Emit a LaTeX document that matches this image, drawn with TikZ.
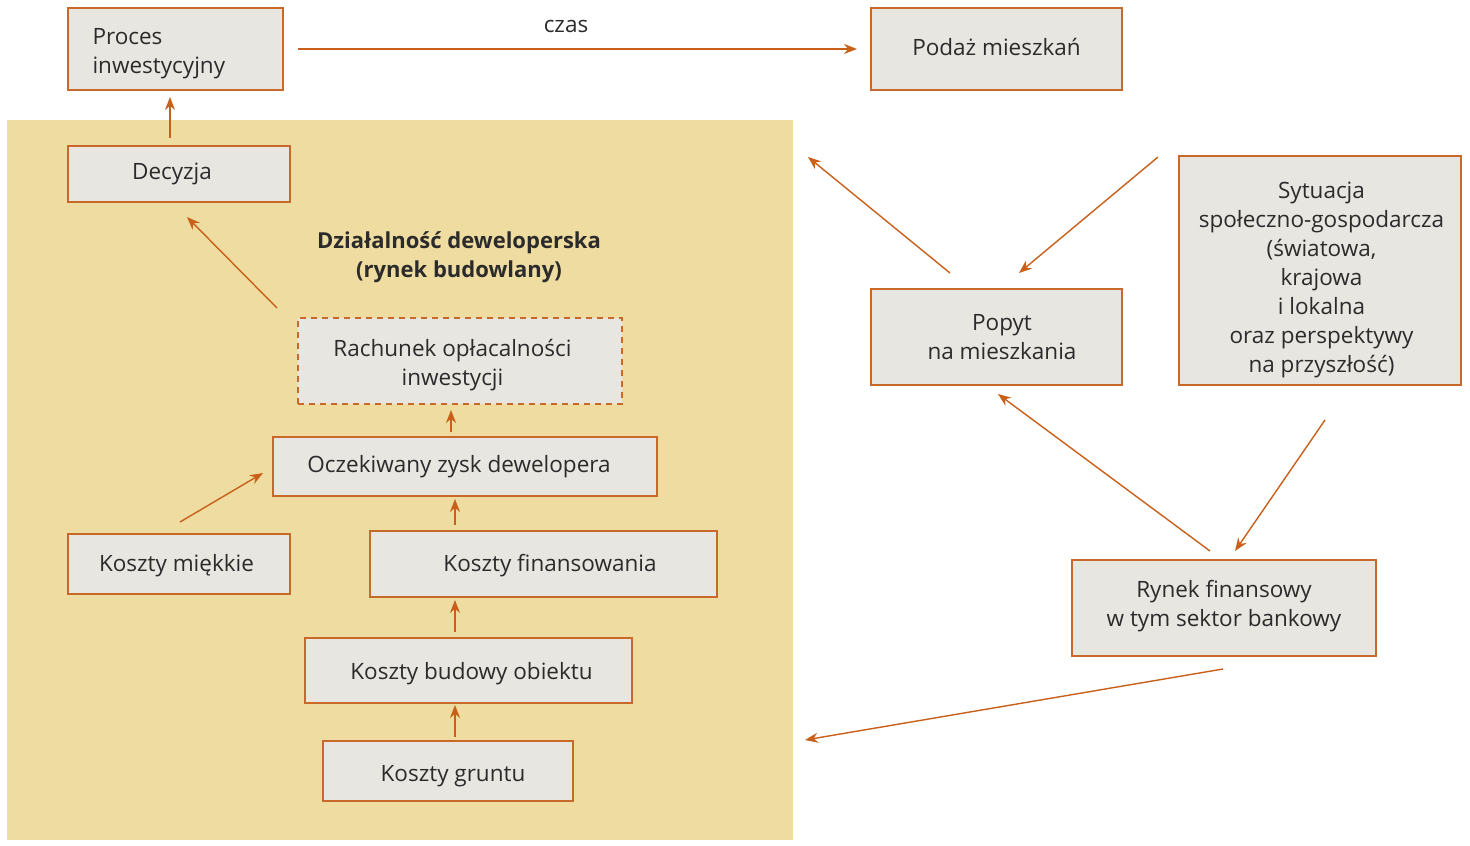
\documentclass[tikz,border=0pt]{standalone}
\usepackage{fontspec}
\setmainfont{Open Sans}
\usetikzlibrary{arrows.meta}
\definecolor{boxfill}{HTML}{E8E6E1}
\definecolor{boxline}{HTML}{C8692A}
\definecolor{arr}{HTML}{C8601A}
\definecolor{bgyel}{HTML}{EEDCA0}
\definecolor{txt}{HTML}{2B2B2B}
\tikzset{
  lab/.style={align=center, inner sep=0pt, text=txt, font=\fontsize{22.5}{29}\selectfont},
  box/.style={draw=boxline, line width=1.3pt, fill=boxfill, inner sep=0pt},
  dashbox/.style={box, dashed, dash pattern=on 6pt off 5pt},
  conn/.style={draw=arr, line width=1.4pt, -{Stealth[length=13pt,width=10pt]}},
}
\begin{document}
\begin{tikzpicture}[x=1pt,y=-1pt]
\useasboundingbox (0,0) rectangle (1470,846);
\fill[white] (0,0) rectangle (1470,846);
\fill[bgyel] (7,120) rectangle (793,840);

\node[box, minimum width=215pt, minimum height=82pt,
  label={[lab, align=left, anchor=west, xshift=25pt, yshift=-5pt]west:{Proces\\inwestycyjny}}] (proces) at (175.5,49) {};
\node[box, minimum width=251pt, minimum height=82pt,
  label={[lab, yshift=2pt]center:{Podaż mieszkań}}] (podaz) at (996.5,49) {};
\node[box, minimum width=222pt, minimum height=56pt,
  label={[lab, xshift=-7pt]center:{Decyzja}}] (decyzja) at (179,174) {};
\node[dashbox, minimum width=324pt, minimum height=86pt,
  label={[lab, xshift=-7.5pt, yshift=-4pt]center:{Rachunek opłacalności\\inwestycji}}] (rachunek) at (460,361) {};
\node[box, minimum width=384pt, minimum height=59pt,
  label={[lab, xshift=-6pt]center:{Oczekiwany zysk dewelopera}}] (zysk) at (465,466.5) {};
\node[box, minimum width=222pt, minimum height=60pt,
  label={[lab, xshift=-2.5pt, yshift=-2pt]center:{Koszty miękkie}}] (miekkie) at (179,564) {};
\node[box, minimum width=347pt, minimum height=66pt,
  label={[lab, xshift=6.5pt, yshift=-2pt]center:{Koszty finansowania}}] (finans) at (543.5,564) {};
\node[box, minimum width=327pt, minimum height=65pt,
  label={[lab, xshift=3pt, yshift=-3pt]center:{Koszty budowy obiektu}}] (budowa) at (468.5,670.5) {};
\node[box, minimum width=250pt, minimum height=60pt,
  label={[lab, xshift=5pt, yshift=-5pt]center:{Koszty gruntu}}] (grunt) at (448,771) {};
\node[box, minimum width=251pt, minimum height=96pt,
  label={[lab, xshift=5.5pt]center:{Popyt\\na mieszkania}}] (popyt) at (996.5,337) {};
\node[box, minimum width=282pt, minimum height=229pt,
  label={[lab, xshift=1.5pt, yshift=-9pt]center:{Sytuacja\\społeczno-gospodarcza\\(światowa,\\krajowa\\i lokalna\\oraz perspektywy\\na przyszłość)}}] (sytuacja) at (1320,270.5) {};
\node[box, minimum width=304pt, minimum height=96pt,
  label={[lab, yshift=2pt]center:{Rynek finansowy\\w tym sektor bankowy}}] (rynek) at (1224,608) {};

\node[lab, font=\fontsize{22}{29}\selectfont\bfseries] (tytul) at (459,257) {Działalność deweloperska\\(rynek budowlany)};
\node[lab] (czas) at (566,26) {czas};

% connector end points
\coordinate (czasA) at (298,49);
\coordinate (czasB) at (857,49);
\coordinate (decA) at (170,138);
\coordinate (decB) at (170,97);
\coordinate (rachA) at (277,308);
\coordinate (rachB) at (187,217);
\coordinate (zyskA) at (451,432);
\coordinate (zyskB) at (451,410);
\coordinate (miekA) at (180,522);
\coordinate (miekB) at (263,473);
\coordinate (finA) at (455,525);
\coordinate (finB) at (455,499);
\coordinate (budA) at (455,632);
\coordinate (budB) at (455,600);
\coordinate (grA) at (455,737);
\coordinate (grB) at (455,705);
\coordinate (popA) at (950,273);
\coordinate (devTop) at (808,157);
\coordinate (sytA) at (1158,157);
\coordinate (popB) at (1019,273);
\coordinate (rynA) at (1210,551);
\coordinate (popC) at (998,394);
\coordinate (sytB) at (1325,420);
\coordinate (rynB) at (1235,551);
\coordinate (rynC) at (1223,669);
\coordinate (devBot) at (805,740);

\draw[conn] (czasA) -- (czasB);
\draw[conn] (decA) -- (decB);
\draw[conn] (rachA) -- (rachB);
\draw[conn] (zyskA) -- (zyskB);
\draw[conn] (miekA) -- (miekB);
\draw[conn] (finA) -- (finB);
\draw[conn] (budA) -- (budB);
\draw[conn] (grA) -- (grB);
\draw[conn] (popA) -- (devTop);
\draw[conn] (sytA) -- (popB);
\draw[conn] (rynA) -- (popC);
\draw[conn] (sytB) -- (rynB);
\draw[conn] (rynC) -- (devBot);
\end{tikzpicture}
\end{document}
